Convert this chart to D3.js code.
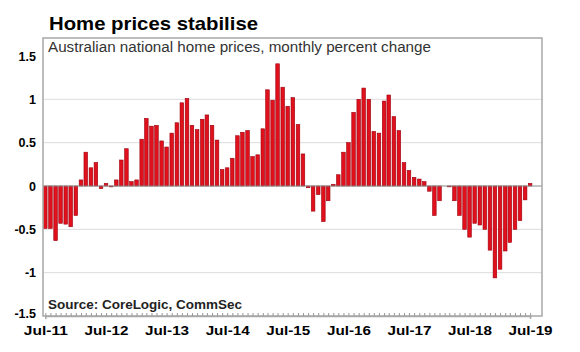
<!DOCTYPE html>
<html>
<head>
<meta charset="utf-8">
<script src="https://cdn.jsdelivr.net/npm/d3@7"></script>
<style>
  body { margin: 0; background: #fff; }
  svg { font-family: "Liberation Sans", Arial, sans-serif; }
</style>
</head>
<body>
<svg class="chart" width="580" height="352"></svg>
<script>
// monthly % change, Jul-11 .. Jul-19
var changes = [
  -0.49, -0.49, -0.63, -0.43, -0.44, -0.47, -0.34, 0.07, 0.39, 0.21, 0.27, -0.03,
  0.03, -0.01, 0.07, 0.30, 0.43, 0.05, 0.07, 0.54, 0.78, 0.69, 0.70, 0.52,
  0.45, 0.61, 0.73, 0.96, 1.01, 0.70, 0.65, 0.77, 0.82, 0.70, 0.53, 0.19,
  0.21, 0.32, 0.58, 0.62, 0.64, 0.34, 0.36, 0.66, 1.11, 0.99, 1.41, 1.14,
  0.92, 1.02, 0.71, 0.37, -0.02, -0.29, -0.10, -0.41, -0.17, 0.02, 0.13, 0.39,
  0.50, 0.85, 1.00, 1.13, 1.00, 0.63, 0.61, 0.98, 1.05, 0.80, 0.64, 0.27,
  0.18, 0.10, 0.08, 0.05, -0.06, -0.34, -0.17, 0.00, -0.01, -0.17, -0.34, -0.50,
  -0.59, -0.43, -0.45, -0.50, -0.74, -1.06, -0.96, -0.75, -0.65, -0.50, -0.40, -0.16,
  0.03
];
var months = d3.timeMonth.range(new Date(2011, 6, 1), new Date(2019, 7, 1));
var xTickLabels = ["Jul-11", "Jul-12", "Jul-13", "Jul-14", "Jul-15", "Jul-16", "Jul-17", "Jul-18", "Jul-19"];
var yTicks = [1.5, 1, 0.5, 0, -0.5, -1, -1.5];
var gridTicks = [1, 0.5, -0.5, -1];

var vis = d3.select(".chart"),
    BOX = { left: 43, right: 542, top: 38, bottom: 316 },
    xScale = d3.scaleLinear().domain([months[0], months[96]]).range([45.3, 530.1]),
    yScale = d3.scaleLinear().domain([-1.5, 1.5]).range([316, 56]),
    barW = 3.6;

vis.append("text")
    .attr("x", 49).attr("y", 30)
    .attr("font-size", 18.5).attr("font-weight", "bold")
    .attr("textLength", 209).attr("lengthAdjust", "spacingAndGlyphs")
    .text("Home prices stabilise");

// grid
vis.append("g").selectAll("line").data(gridTicks).enter().append("line")
    .attr("x1", BOX.left).attr("x2", BOX.right)
    .attr("y1", function(d) { return yScale(d); })
    .attr("y2", function(d) { return yScale(d); })
    .attr("stroke", "#dcdcdc").attr("stroke-width", 1);

// bars
vis.append("g").selectAll("rect").data(changes).enter().append("rect")
    .attr("x", function(d, i) { return xScale(months[i]) - barW / 2; })
    .attr("y", function(d) { return yScale(Math.max(0, d)); })
    .attr("width", barW)
    .attr("height", function(d) { return Math.abs(yScale(d) - yScale(0)); })
    .attr("fill", "#e0101c")
    .attr("stroke", "#9a000e")
    .attr("stroke-width", 0.6);

// zero line
vis.append("line")
    .attr("x1", BOX.left).attr("x2", BOX.right)
    .attr("y1", yScale(0)).attr("y2", yScale(0))
    .attr("stroke", "#888").attr("stroke-width", 1);

// box
vis.append("rect")
    .attr("x", BOX.left).attr("y", BOX.top)
    .attr("width", BOX.right - BOX.left).attr("height", BOX.bottom - BOX.top)
    .attr("fill", "none").attr("stroke", "#a8a8a8").attr("stroke-width", 1.5);

// x axis with monthly ticks
var xAxis = d3.axisBottom(xScale)
    .tickValues(months)
    .tickSize(3)
    .tickFormat(function(d, i) { return months[i].getMonth() === 6 ? xTickLabels[Math.floor(i / 12)] : ""; });

var gx = vis.append("g")
    .attr("transform", "translate(0," + BOX.bottom + ")")
    .call(xAxis);
gx.select(".domain").attr("stroke", "#a8a8a8").attr("stroke-width", 1.5);
gx.selectAll(".tick line").attr("stroke", "#999").attr("y2", -3);
gx.selectAll(".tick text")
    .attr("y", 9)
    .attr("font-size", 13.5).attr("font-weight", "bold")
    .attr("font-family", "Liberation Sans, Arial, sans-serif")
    .attr("fill", "#000")
    .filter(function() { return this.textContent !== ""; })
    .attr("textLength", 44).attr("lengthAdjust", "spacingAndGlyphs");

// y axis labels
var yAxis = d3.axisLeft(yScale).tickValues(yTicks).tickSize(0).tickPadding(7)
    .tickFormat(function(d) { return String(d); });
var gy = vis.append("g")
    .attr("transform", "translate(" + BOX.left + ",0)")
    .call(yAxis);
gy.select(".domain").remove();
gy.selectAll(".tick text")
    .attr("font-size", 12.5).attr("font-weight", "bold")
    .attr("font-family", "Liberation Sans, Arial, sans-serif")
    .attr("fill", "#000")
    .filter(function(d) { return d === -1.5; })
    .attr("dy", "0.1em");

vis.append("text")
    .attr("x", 48).attr("y", 52)
    .attr("font-size", 14).attr("fill", "#333")
    .attr("textLength", 383).attr("lengthAdjust", "spacingAndGlyphs")
    .text("Australian national home prices, monthly percent change");

vis.append("text")
    .attr("x", 48).attr("y", 309)
    .attr("font-size", 13).attr("font-weight", "bold").attr("fill", "#222")
    .attr("textLength", 194).attr("lengthAdjust", "spacingAndGlyphs")
    .text("Source: CoreLogic, CommSec");
</script>
</body>
</html>
